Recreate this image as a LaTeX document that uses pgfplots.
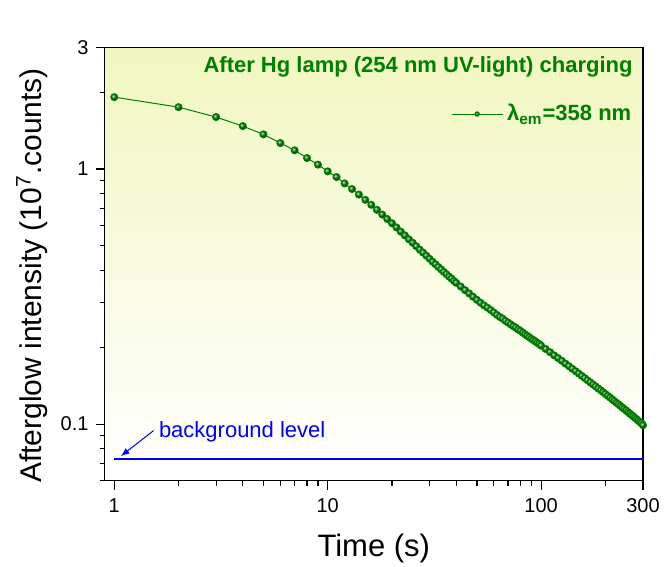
\documentclass[border=0pt]{standalone}
\usepackage{fontspec}
\setmainfont{Liberation Sans}
\usepackage{pgfplots}
\pgfplotsset{compat=1.18}
\usepackage{pgfplotstable}
\definecolor{ogreen}{RGB}{0,128,0}
\definecolor{bgtop}{RGB}{241,246,192}
\pgfplotstableread{
t I
1 1.913
2 1.748
3 1.598
4 1.473
5 1.367
6 1.264
7 1.184
8 1.104
9 1.040
10 0.979
11 0.930
12 0.878
13 0.8345
14 0.794
15 0.757
16 0.724
17 0.692
18 0.663
19 0.637
20 0.613
21 0.590
22 0.568
23 0.549
24 0.530
25 0.514
26 0.498
27 0.483
28 0.470
29 0.457
30 0.445
31 0.433
32 0.423
33 0.413
34 0.404
35 0.395
36 0.387
37 0.379
38 0.372
39 0.364
40 0.358
42 0.346
44 0.335
46 0.325
48 0.3155
50 0.307
52 0.299
54 0.292
56 0.286
58 0.280
60 0.274
62 0.268
64 0.263
66 0.259
68 0.254
70 0.250
72 0.246
74 0.242
76 0.239
78 0.235
80 0.232
82 0.2285
84 0.225
86 0.222
88 0.219
90 0.216
92 0.2135
94 0.211
96 0.208
98 0.206
100 0.203
105 0.197
110 0.1915
115 0.186
120 0.1815
125 0.177
130 0.1726
135 0.1686
140 0.1648
145 0.1612
150 0.1578
155 0.1545
160 0.1515
165 0.1485
170 0.1457
175 0.143
180 0.1405
185 0.138
190 0.1357
195 0.1335
200 0.1313
205 0.1291
210 0.1271
215 0.1251
220 0.1232
225 0.1213
230 0.1196
235 0.1179
240 0.1162
245 0.1146
250 0.1131
255 0.1115
260 0.110
265 0.1086
270 0.1072
275 0.1058
280 0.1045
285 0.1032
290 0.1019
295 0.1007
300 0.0990
}\decay
\pgfplotstableread{
t I
1 0.0727
300 0.0727
}\bglevel
\begin{document}
\begin{tikzpicture}
\useasboundingbox (-52.25pt,-43.15pt) rectangle (280.75pt,240.35pt);
\begin{axis}[
  name=ax,
  at={(0pt,0pt)}, anchor=south west,
  scale only axis,
  width=269.25pt, height=216.7pt,
  xmode=log, ymode=log,
  xmin=0.9, xmax=300, ymin=0.06, ymax=3,
  xtick={1,10,100,300}, xticklabels={1,10,100,300},
  minor xtick={2,3,4,5,6,7,8,9,20,30,40,50,60,70,80,90,200},
  ytick={0.1,1,3}, yticklabels={0.1,1,3},
  minor ytick={0.06,0.07,0.08,0.09,0.2,0.3,0.4,0.5,0.6,0.7,0.8,0.9,2},
  xtick pos=bottom, ytick pos=left,
  tick align=outside,
  major tick length=4.5pt, minor tick length=2.5pt,
  every tick/.style={black, line width=0.6pt},
  axis line style={line width=0.6pt},
  tick label style={font=\fontsize{10}{12}\selectfont},
  xticklabel style={yshift=-1pt},
  /pgf/number format/assume math mode=true,
  axis background/.style={top color=bgtop, bottom color=white},
  every axis x label/.style={at={(axis description cs:0.5,0)}, anchor=base, yshift=-38pt, font=\fontsize{15.5}{18}\selectfont},
  every axis y label/.style={at={(axis description cs:-0.1179,0.4735)}, anchor=base, rotate=90, font=\fontsize{15}{18}\selectfont},
  xlabel={Time (s)},
  ylabel={Afterglow intensity (10\textsuperscript{7}.counts)},
  legend style={at={(0.9857,0.846)}, anchor=east, draw=none, fill=none, inner sep=0pt, outer sep=0pt,
    font=\bfseries\fontsize{11}{13}\selectfont, text=ogreen},
  legend image code/.code={
    \draw[mark repeat=2, mark phase=2, mark size=1.1pt] plot coordinates {(0pt,0pt) (12.75pt,0pt) (25.5pt,0pt)};
  },
]
\addplot[ogreen, line width=0.5pt, mark=ball, mark size=1.75pt, mark options={ball color=ogreen}] table[x=t,y=I] {\decay};
\addlegendentry{λ\textsubscript{em}=358 nm}
\addplot[blue, line width=1pt, forget plot] table[x=t,y=I] {\bglevel};
\draw[blue, line width=0.5pt, -latex] (axis cs:1.53,0.0944) -- (axis cs:1.074,0.0749);
\node[anchor=base west, blue, font=\fontsize{11}{13}\selectfont, inner sep=0pt] at (rel axis cs:0.1005,0.0999) {background level};
\node[anchor=base east, ogreen, font=\bfseries\fontsize{11}{13}\selectfont, inner sep=0pt] at (rel axis cs:0.9814,0.9407) {After Hg lamp (254 nm UV-light) charging};
\node[anchor=base west, black, font=\bfseries\fontsize{10.5}{12}\selectfont, inner sep=0pt] at (rel axis cs:0.0134,1.0323) {LiLuGeO\textsubscript{4}:0.005Bi\textsuperscript{3+}};
\end{axis}
\end{tikzpicture}
\end{document}
